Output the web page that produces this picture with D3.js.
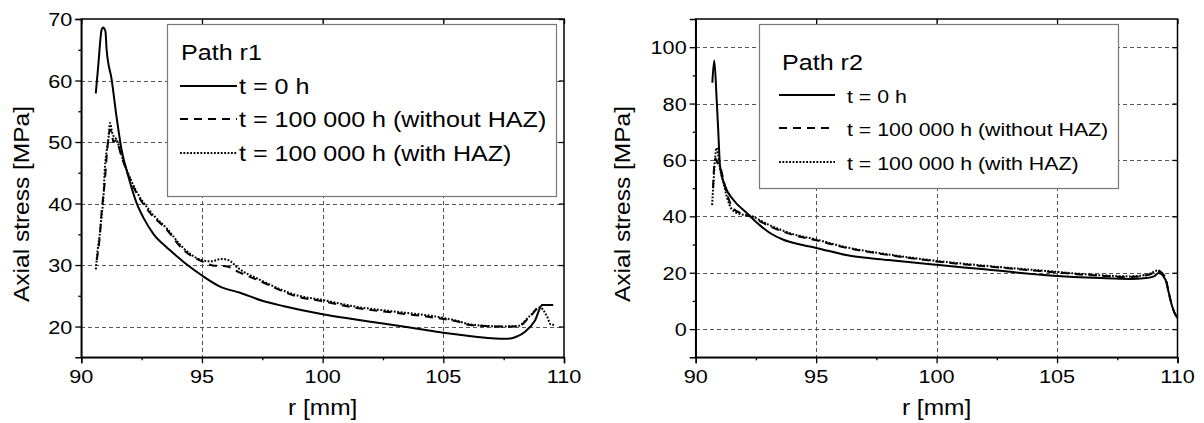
<!DOCTYPE html>
<html><head><meta charset="utf-8">
<script src="https://cdn.jsdelivr.net/npm/d3@7"></script>
<style>body{margin:0;background:#fff}svg{display:block}</style>
</head><body><svg id="c" width="1204" height="423"></svg>
<script>
// ---------- DATA ----------
const xTicks = [90, 95, 100, 105, 110];
const xMinorTicks = [92.5, 97.5, 102.5, 107.5];
const xLabel = "r [mm]";
const yLabel = "Axial stress [MPa]";
const seriesNames = ["t = 0 h", "t = 100 000 h (without HAZ)", "t = 100 000 h (with HAZ)"];

// Path r1
const r1Title = "Path r1";
const r1YTicks = [20, 30, 40, 50, 60, 70];
const r1YMinor = [25, 35, 45, 55, 65];
const r1_t0_x = [90.6, 90.7, 90.84, 90.9, 91.0, 91.05, 91.26, 91.46, 91.67, 91.95, 92.29, 92.6, 93.0, 93.5, 94.0, 94.4, 95.0, 95.75, 96.58, 97.5, 98.4, 100.0, 101.1, 102.5, 104.0, 105.0, 106.0, 107.0, 107.6, 108.0, 108.4, 108.8, 109.1, 109.55];
const r1_t0_y = [57.9, 62.3, 68.2, 68.6, 68.0, 65.0, 60.1, 54.1, 48.7, 44.4, 40.1, 37.5, 35.0, 33.0, 31.3, 30.0, 28.3, 26.5, 25.5, 24.2, 23.3, 22.0, 21.3, 20.5, 19.6, 19.0, 18.5, 18.1, 18.0, 18.3, 19.2, 21.0, 23.5, 23.5];
const r1_noHaz_x = [90.64, 90.78, 90.84, 90.98, 91.05, 91.19, 91.26, 91.33, 91.44, 91.67, 92.15, 92.84, 93.53, 94.22, 95.0, 95.5, 96.0, 96.5, 97.4, 98.92, 100.02, 101.42, 103.07, 104.72, 105.5, 106.2, 107.6, 108.1, 108.58, 109.1, 109.55];
const r1_noHaz_y = [30.8, 35.3, 38.5, 43.9, 47.6, 52.0, 51.5, 50.0, 50.3, 47.6, 42.8, 38.5, 35.8, 32.5, 30.6, 29.9, 29.8, 28.9, 27.4, 24.9, 24.1, 23.0, 22.2, 21.4, 20.9, 20.2, 20.0, 20.0, 21.6, 23.5, 23.5];
const r1_haz_x = [90.6, 90.68, 90.77, 90.84, 90.91, 90.98, 91.05, 91.12, 91.19, 91.28, 91.36, 91.45, 91.67, 92.15, 92.84, 93.53, 94.22, 95.0, 95.4, 95.8, 96.1, 96.5, 97.4, 98.92, 100.02, 101.42, 103.07, 104.72, 105.5, 106.2, 107.6, 108.1, 108.58, 109.0, 109.29, 109.46, 109.6];
const r1_haz_y = [29.3, 32.5, 35.2, 38.0, 40.6, 46.0, 48.5, 50.4, 53.1, 51.5, 50.8, 50.5, 47.8, 43.0, 38.8, 36.0, 32.8, 30.8, 30.6, 31.0, 30.8, 29.5, 27.6, 25.1, 24.3, 23.2, 22.4, 21.6, 21.0, 20.3, 20.0, 20.1, 21.7, 23.1, 21.7, 20.3, 20.3];

// Path r2
const r2Title = "Path r2";
const r2YTicks = [0, 20, 40, 60, 80, 100];
const r2YMinor = [10, 30, 50, 70, 90];
const r2_t0_x = [90.69, 90.77, 90.87, 90.94, 91.01, 91.22, 91.56, 92.12, 92.67, 93.1, 93.64, 94.3, 95.0, 96.41, 98.0, 100.0, 102.0, 104.72, 106.8, 108.05, 108.6, 109.02, 109.22, 109.5, 109.64, 109.78, 109.99];
const r2_t0_y = [87.4, 95.3, 81.5, 69.6, 57.8, 50.7, 45.9, 41.2, 36.8, 34.0, 31.7, 30.1, 28.8, 26.0, 24.5, 22.8, 21.2, 19.0, 18.1, 17.8, 18.0, 18.7, 19.9, 17.5, 12.8, 8.0, 3.9];
const r2_noHaz_x = [90.72, 90.76, 90.82, 90.9, 91.01, 91.15, 91.29, 91.5, 91.84, 92.26, 93.09, 94.0, 95.0, 96.27, 98.0, 100.0, 102.0, 104.72, 106.8, 108.05, 108.8, 109.2, 109.5, 109.64, 109.78, 109.99];
const r2_noHaz_y = [50.0, 57.0, 60.5, 59.0, 57.8, 53.0, 48.3, 43.5, 41.2, 40.0, 36.4, 33.5, 31.5, 28.8, 26.3, 24.0, 22.3, 20.3, 18.9, 18.5, 19.3, 20.5, 18.1, 12.8, 8.0, 3.9];
const r2_haz_x = [90.68, 90.74, 90.8, 90.86, 90.93, 91.01, 91.15, 91.29, 91.5, 91.84, 92.26, 93.09, 94.0, 95.0, 96.27, 98.0, 100.0, 102.0, 104.72, 106.8, 108.05, 108.8, 109.2, 109.5];
const r2_haz_y = [44.0, 52.0, 60.0, 64.3, 62.0, 57.0, 52.0, 47.0, 42.5, 40.8, 40.2, 36.8, 33.8, 31.8, 29.0, 26.5, 24.2, 22.5, 20.5, 19.1, 18.7, 19.5, 20.8, 18.3];

// ---------- DRAW ----------
const FONT = "'Liberation Sans', Arial, Helvetica, sans-serif";
const SX = 1.14;
const svg = d3.select("#c");
svg.append("rect").attr("width", 1204).attr("height", 423).attr("fill", "#fff");

const styles = [
  {dash: null, width: 2},
  {dash: "8,6", width: 2},
  {dash: "1.8,1.6", width: 2}
];

function txt(g, x, y, s, size, anchor, rot) {
  const t = g.append("g").attr("transform", `translate(${x},${y}) rotate(${rot || 0}) scale(${SX},1)`);
  t.append("text").attr("x", 0).attr("y", 0).attr("font-family", FONT).attr("font-size", size)
    .attr("text-anchor", anchor || "start").attr("fill", "#000").text(s);
}

function zip(xs, ys) { return xs.map((x, i) => [x, ys[i]]); }

function panel(p) {
  const g = svg.append("g");
  const x = d3.scaleLinear().domain([90, 110]).range([p.x0, p.x1]);
  const y = d3.scaleLinear().domain(p.yDomain).range([p.y1, p.y0]);

  // grid
  const grid = g.append("g").attr("stroke", "#555").attr("stroke-width", 1).attr("stroke-dasharray", "4,3").attr("shape-rendering", "crispEdges");
  [95, 100, 105].forEach(v => grid.append("line").attr("x1", Math.round(x(v)) + 0.5).attr("x2", Math.round(x(v)) + 0.5).attr("y1", p.y0).attr("y2", p.y1));
  p.yTicks.filter(v => y(v) > p.y0 + 2).forEach(v => grid.append("line").attr("y1", Math.round(y(v)) + 0.5).attr("y2", Math.round(y(v)) + 0.5).attr("x1", p.x0).attr("x2", p.x1));

  // data lines
  const line = d3.line().curve(d3.curveMonotoneX).x(d => x(d[0])).y(d => y(d[1]));
  p.series.forEach((s, i) => {
    g.append("path").attr("d", line(s)).attr("fill", "none").attr("stroke", "#000")
      .attr("stroke-width", styles[i].width).attr("stroke-dasharray", styles[i].dash)
      .attr("stroke-linejoin", "round");
  });

  // axes
  const xAx = g.append("g").attr("transform", `translate(0,${p.y1})`)
    .call(d3.axisBottom(x).tickValues(xTicks).tickSize(6).tickFormat(d3.format("d")));
  g.append("g").attr("transform", `translate(0,${p.y1})`)
    .call(d3.axisBottom(x).tickValues(xMinorTicks).tickSize(3).tickFormat("")).select(".domain").remove();
  const yAx = g.append("g").attr("transform", `translate(${p.x0},0)`)
    .call(d3.axisLeft(y).tickValues(p.yTicks).tickSize(6).tickFormat(d3.format("d")));
  g.append("g").attr("transform", `translate(${p.x0},0)`)
    .call(d3.axisLeft(y).tickValues(p.yMinor).tickSize(3).tickFormat("")).select(".domain").remove();
  // top / right mirrored inward ticks
  g.append("g").attr("transform", `translate(0,${p.y0})`)
    .call(d3.axisBottom(x).tickValues(xTicks).tickSize(5).tickFormat("")).select(".domain").remove();
  g.append("g").attr("transform", `translate(${p.x1},0)`)
    .call(d3.axisLeft(y).tickValues(p.yTicks).tickSize(5).tickFormat("")).select(".domain").remove();

  [xAx, yAx].forEach(a => { a.selectAll("text").remove(); });
  g.selectAll(".domain").attr("stroke", "#000").attr("stroke-width", 1.5);
  g.selectAll(".tick line").attr("stroke", "#000").attr("stroke-width", 1.3);

  // tick labels
  xTicks.forEach(v => txt(g, x(v), p.y1 + 26, String(v), 19, "middle"));
  p.yTicks.forEach(v => txt(g, p.x0 - 9, y(v) + 7, String(v), 19, "end"));

  // frame
  g.append("rect").attr("x", p.x0).attr("y", p.y0).attr("width", p.x1 - p.x0).attr("height", p.y1 - p.y0)
    .attr("fill", "none").attr("stroke", "#000").attr("stroke-width", 1.5);

  // axis titles
  txt(g, (p.x0 + p.x1) / 2, 415, xLabel, 21.5, "middle");
  txt(g, p.yLabelX, 204, yLabel, 21.5, "middle", -90);

  // legend
  const L = p.legend;
  const lg = g.append("g");
  lg.append("rect").attr("x", L.x0 + 0.5).attr("y", L.y0 + 0.5).attr("width", L.x1 - L.x0).attr("height", L.y1 - L.y0)
    .attr("fill", "#fff").attr("stroke", "#777").attr("stroke-width", 1.2);
  txt(lg, L.titleX, L.titleY, p.title, 22, "start");
  seriesNames.forEach((n, i) => {
    lg.append("line").attr("x1", L.sx0).attr("x2", L.sx1).attr("y1", L.rows[i]).attr("y2", L.rows[i])
      .attr("stroke", "#000").attr("stroke-width", styles[i].width).attr("stroke-dasharray", styles[i].dash);
    txt(lg, L.tx, L.rows[i] + 7.5, n, L.size, "start");
  });
}

panel({
  x0: 81.3, x1: 564, y0: 19, y1: 357.3, yDomain: [15, 70],
  yTicks: r1YTicks, yMinor: r1YMinor, title: r1Title, yLabelX: 29,
  series: [zip(r1_t0_x, r1_t0_y), zip(r1_noHaz_x, r1_noHaz_y), zip(r1_haz_x, r1_haz_y)],
  legend: {x0: 167, y0: 24, x1: 556, y1: 196, titleX: 181, titleY: 60, rows: [86, 119, 153], sx0: 180, sx1: 237, tx: 239, size: 22}
});
panel({
  x0: 695.7, x1: 1177.5, y0: 19, y1: 357.3, yDomain: [-10, 110],
  yTicks: r2YTicks, yMinor: r2YMinor, title: r2Title, yLabelX: 630,
  series: [zip(r2_t0_x, r2_t0_y), zip(r2_noHaz_x, r2_noHaz_y), zip(r2_haz_x, r2_haz_y)],
  legend: {x0: 759, y0: 24, x1: 1118, y1: 188, titleX: 782, titleY: 70, rows: [95, 128, 162], sx0: 779, sx1: 835, tx: 847, size: 18.7}
});
</script></body></html>
